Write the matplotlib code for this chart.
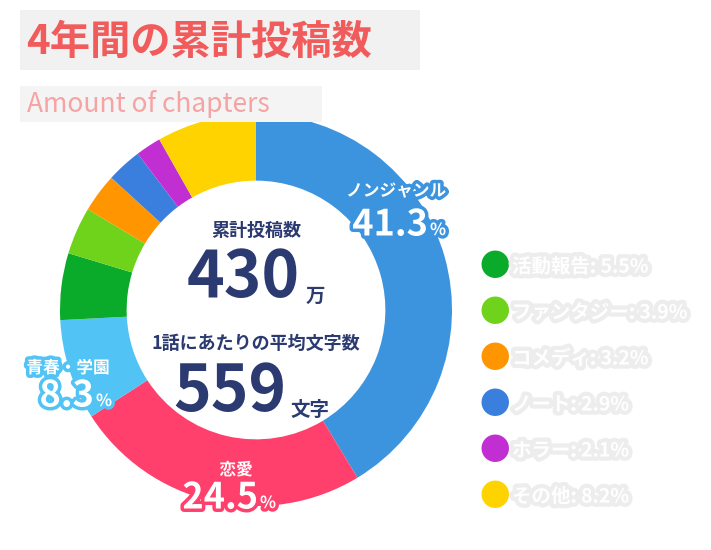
import matplotlib.pyplot as plt
import matplotlib.patheffects as pe
from matplotlib.patches import Rectangle

plt.rcParams['font.family'] = ['Noto Sans CJK JP', 'DejaVu Sans']

genres = ["ノンジャンル", "恋愛", "青春・学園", "活動報告", "ファンタジー",
          "コメディ", "ノート", "ホラー", "その他"]
shares = [41.3, 24.5, 8.3, 5.5, 3.9, 3.2, 2.9, 2.1, 8.2]
colors = ["#3d94de", "#ff3f6c", "#52c3f5", "#0aab2a", "#6fd21b",
          "#ff9500", "#3a7fdd", "#c12fd2", "#ffd300"]
total_posts = "430"
avg_chars = "559"

W, H = 711, 550
fig = plt.figure(figsize=(7.11, 5.5), dpi=100)


def px(x, y):
    return x / W, 1 - y / H


# title boxes
fig.patches.append(Rectangle(px(20, 70), 400 / W, 60 / H, transform=fig.transFigure,
                             facecolor="#f1f1f1", edgecolor="none"))
fig.text(*px(26, 42), "4年間の累計投稿数", fontsize=29, fontweight="bold",
         color="#f25b5b", va="center")
fig.patches.append(Rectangle(px(20, 122), 302 / W, 36 / H, transform=fig.transFigure,
                             facecolor="#f4f4f4", edgecolor="none"))
fig.text(*px(27, 104), "Amount of chapters", fontsize=19, color="#f6a3a3", va="center")

# donut
cx, cy, r = 256, 310, 196
ax = fig.add_axes([(cx - r) / W, (H - cy - r) / H, 2 * r / W, 2 * r / H])
ax.pie(shares, colors=colors, startangle=90, counterclock=False, radius=1,
       wedgeprops=dict(width=0.34, edgecolor="none"))
ax.set_xlim(-1, 1)
ax.set_ylim(-1, 1)
ax.set_aspect("equal")
ax.axis("off")

navy = "#2b3a70"
fig.text(*px(256, 230), "累計投稿数", fontsize=13, fontweight="bold", color=navy, ha="center", va="center")
fig.text(*px(300, 278), total_posts, fontsize=46, fontweight="bold", color=navy, ha="right", va="center")
fig.text(*px(306, 296), "万", fontsize=14, fontweight="bold", color=navy, ha="left", va="center")
fig.text(*px(256, 343), "1話にあたりの平均文字数", fontsize=13, fontweight="bold", color=navy, ha="center", va="center")
fig.text(*px(286, 392), avg_chars, fontsize=46, fontweight="bold", color=navy, ha="right", va="center")
fig.text(*px(290, 410), "文字", fontsize=14, fontweight="bold", color=navy, ha="left", va="center")

# slice labels: (label x, label y, value right edge x, value y)
label_pos = {0: (396, 191, 428, 225), 1: (236, 470, 258, 498), 2: (68, 368, 94, 396)}
for i, (lx, ly, vx, vy) in label_pos.items():
    st = [pe.withStroke(linewidth=5, foreground=colors[i])]
    fig.text(*px(lx, ly), genres[i], fontsize=12, fontweight="bold", color="white",
             ha="center", va="center", path_effects=st)
    fig.text(*px(vx, vy), f"{shares[i]}", fontsize=26, fontweight="bold", color="white",
             ha="right", va="center", path_effects=st)
    fig.text(*px(vx + 2, vy + 5), "%", fontsize=12, fontweight="bold",
             color="white", ha="left", va="center", path_effects=st)

# legend for small slices
shadow = [pe.withStroke(linewidth=6, foreground="#ededed")]
for k, i in enumerate(range(3, 9)):
    y = 267 + k * 46
    fig.text(*px(495, y), "●", fontsize=22, color=colors[i], ha="center", va="center")
    fig.text(*px(512, y), f"{genres[i]}: {shares[i]}%", fontsize=14, fontweight="bold",
             color="white", ha="left", va="center", path_effects=shadow)

fig.savefig("out.png", dpi=100, facecolor="white")
